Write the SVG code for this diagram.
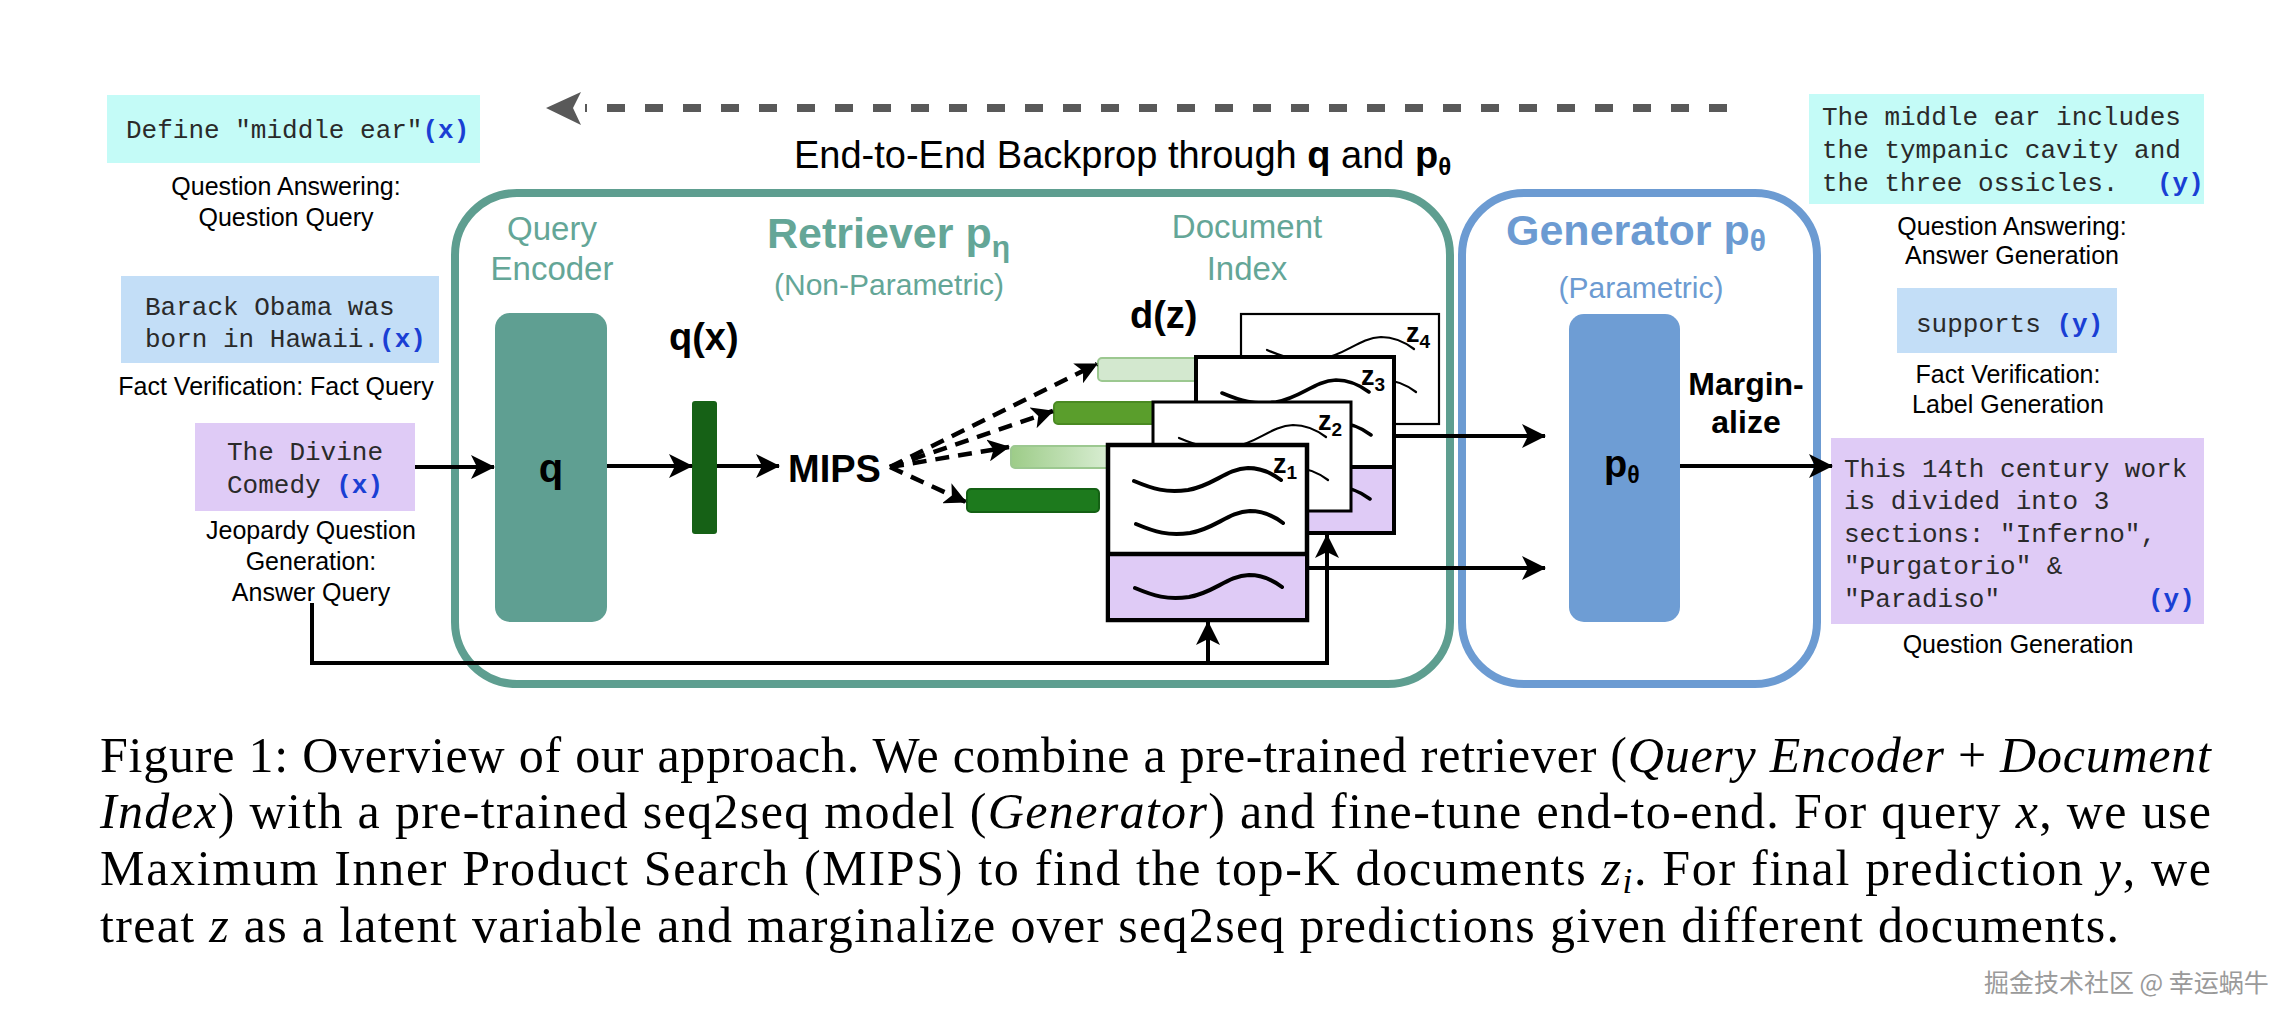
<svg xmlns="http://www.w3.org/2000/svg" xmlns:xlink="http://www.w3.org/1999/xlink" width="2296" height="1026" viewBox="0 0 2296 1026">
<style>
.lbl{font-family:"Liberation Sans",Arial,sans-serif;font-size:25px;fill:#000}
.mono{font-family:"Liberation Mono","Courier New",monospace;font-size:26px;fill:#2a2a2a}
.var{font-weight:bold;fill:#1a3fd4}
.teal{font-family:"Liberation Sans",Arial,sans-serif;fill:#64a697}
.blue{font-family:"Liberation Sans",Arial,sans-serif;fill:#6c9bd2}
.bold{font-family:"Liberation Sans",Arial,sans-serif;font-weight:bold;fill:#000}
.cap{font-family:"Liberation Serif","Times New Roman",serif;font-size:50px;fill:#000}
.it{font-style:italic}
.ln{fill:none;stroke:#000;stroke-width:4}
.dash{fill:none;stroke:#000;stroke-width:4.5;stroke-dasharray:14 9}
.doc{fill:#fff;stroke:#000}
.sq{fill:none;stroke:#000;stroke-linecap:round}
.zl{font-family:"Liberation Sans",Arial,sans-serif;font-weight:bold;fill:#000}
</style>
<defs>
<marker id="ah" markerUnits="userSpaceOnUse" viewBox="0 0 24 24" markerWidth="24" markerHeight="24" refX="23" refY="12" orient="auto">
<path d="M0,0 L24,12 L0,24 L6,12 Z" fill="#000"/>
</marker>
<marker id="ahs" markerUnits="userSpaceOnUse" viewBox="0 0 24 24" markerWidth="22" markerHeight="22" refX="23" refY="12" orient="auto">
<path d="M0,0 L24,12 L0,24 L6,12 Z" fill="#000"/>
</marker>
<linearGradient id="g2" gradientUnits="userSpaceOnUse" x1="1011" y1="0" x2="1108" y2="0">
<stop offset="0" stop-color="#9dcc88"/>
<stop offset="1" stop-color="#d8edd2"/>
</linearGradient>
<path id="sq" d="M0,0 C19,8 32,12 54,9 C79,5 92,-12 114,-13 C129,-13 139,-7 147,-1"/>
</defs>
<rect width="2296" height="1026" fill="#fff"/>

<g id="backprop">
<path d="M1727,108 H585" fill="none" stroke="#595959" stroke-width="8" stroke-dasharray="18 20"/>
<path d="M546,108 L581,92 L573,108 L581,125 Z" fill="#595959"/>
<text x="794" y="168" font-family="Liberation Sans, Arial, sans-serif" font-size="38">End-to-End Backprop through <tspan font-weight="bold">q</tspan> and <tspan font-weight="bold">p</tspan><tspan font-weight="bold" font-size="24" dy="7">θ</tspan></text>
</g>

<g id="input-qa">
<rect x="107" y="95" width="373" height="68" fill="#c4fbf7"/>
<text class="mono" x="126" y="138">Define "middle ear"<tspan class="var">(x)</tspan></text>
<text class="lbl" x="286" y="195" text-anchor="middle">Question Answering:</text>
<text class="lbl" x="286" y="226" text-anchor="middle">Question Query</text>
</g>
<g id="input-fact">
<rect x="121" y="276" width="318" height="87" fill="#c3def7"/>
<text class="mono" x="145" y="315">Barack Obama was</text>
<text class="mono" x="145" y="347">born in Hawaii.<tspan class="var">(x)</tspan></text>
<text class="lbl" x="276" y="395" text-anchor="middle">Fact Verification: Fact Query</text>
</g>
<g id="input-jeopardy">
<rect x="195" y="423" width="220" height="88" fill="#dfcbf6"/>
<text class="mono" x="227" y="460">The Divine</text>
<text class="mono" x="227" y="493">Comedy <tspan class="var">(x)</tspan></text>
<text class="lbl" x="311" y="539" text-anchor="middle">Jeopardy Question</text>
<text class="lbl" x="311" y="570" text-anchor="middle">Generation:</text>
<text class="lbl" x="311" y="601" text-anchor="middle">Answer Query</text>
</g>

<g id="retriever">
<rect x="455" y="193" width="995" height="491" rx="62" fill="none" stroke="#5e9e90" stroke-width="8"/>
<text class="teal" x="552" y="240" font-size="33" text-anchor="middle">Query</text>
<text class="teal" x="552" y="280" font-size="33" text-anchor="middle">Encoder</text>
<text class="teal" x="767" y="248" font-size="43" font-weight="bold">Retriever p<tspan font-size="30" dy="9">η</tspan></text>
<text class="teal" x="774" y="295" font-size="30">(Non-Parametric)</text>
<text class="teal" x="1247" y="238" font-size="33" text-anchor="middle">Document</text>
<text class="teal" x="1247" y="280" font-size="33" text-anchor="middle">Index</text>
</g>
<g id="query-encoder">
<rect x="495" y="313" width="112" height="309" rx="15" fill="#5f9f92"/>
<text class="bold" x="551" y="482" font-size="40" text-anchor="middle">q</text>
</g>
<g id="qx">
<text class="bold" x="669" y="350" font-size="38">q(x)</text>
<rect x="692" y="401" width="25" height="133" rx="3" fill="#166116"/>
</g>
<g id="mips">
<text class="bold" x="788" y="482" font-size="38">MIPS</text>
</g>
<g id="dz">
<text class="bold" x="1130" y="328" font-size="38">d(z)</text>
<rect x="1098" y="358" width="110" height="23" rx="4" fill="#d3e8cf" stroke="#9cc890" stroke-width="2"/>
<rect x="1054" y="402" width="110" height="22" rx="4" fill="#5a9e2c" stroke="#4a8a22" stroke-width="2"/>
<rect x="1011" y="446" width="110" height="22" rx="4" fill="url(#g2)" stroke="#9cc890" stroke-width="2"/>
<rect x="967" y="489" width="132" height="23" rx="4" fill="#1d7a1d" stroke="#146014" stroke-width="2"/>
</g>

<g id="doc-z4" transform="translate(1241,314)">
<rect class="doc" x="0" y="0" width="198" height="110" stroke-width="2.2"/>
<use xlink:href="#sq" class="sq" x="26" y="36" stroke-width="2.2"/>
<use xlink:href="#sq" class="sq" x="28" y="79" stroke-width="2.2"/>
<text class="zl" x="165" y="28" font-size="27">z<tspan font-size="19" dy="6">4</tspan></text>
</g>
<g id="doc-z3" transform="translate(1196,357)">
<rect class="doc" x="0" y="0" width="198" height="176" stroke-width="4"/>
<rect x="2" y="110" width="194" height="64" fill="#dfcbf6"/>
<path d="M0,110 H198" stroke="#000" stroke-width="4"/>
<use xlink:href="#sq" class="sq" x="26" y="36" stroke-width="3.6"/>
<use xlink:href="#sq" class="sq" x="28" y="79" stroke-width="3.6"/>
<use xlink:href="#sq" class="sq" x="27" y="143" stroke-width="3.6"/>
<text class="zl" x="165" y="28" font-size="27">z<tspan font-size="19" dy="6">3</tspan></text>
</g>
<g id="doc-z2" transform="translate(1153,402)">
<rect class="doc" x="0" y="0" width="198" height="109" stroke-width="3"/>
<use xlink:href="#sq" class="sq" x="26" y="36" stroke-width="2.2"/>
<use xlink:href="#sq" class="sq" x="28" y="79" stroke-width="2.2"/>
<text class="zl" x="165" y="28" font-size="27">z<tspan font-size="19" dy="6">2</tspan></text>
</g>
<g id="doc-z1" transform="translate(1108,445)">
<rect class="doc" x="0" y="0" width="199" height="175" stroke-width="4.5"/>
<rect x="2" y="109" width="195" height="64" fill="#dfcbf6"/>
<path d="M0,109 H199" stroke="#000" stroke-width="4.5"/>
<use xlink:href="#sq" class="sq" x="26" y="36" stroke-width="4"/>
<use xlink:href="#sq" class="sq" x="28" y="79" stroke-width="4"/>
<use xlink:href="#sq" class="sq" x="27" y="143" stroke-width="4"/>
<text class="zl" x="165" y="28" font-size="27">z<tspan font-size="19" dy="6">1</tspan></text>
</g>

<g id="generator">
<rect x="1462" y="193" width="355" height="491" rx="62" fill="none" stroke="#6c9bd2" stroke-width="8"/>
<text class="blue" x="1506" y="245" font-size="43" font-weight="bold">Generator p<tspan font-size="30" dy="6">θ</tspan></text>
<text class="blue" x="1641" y="298" font-size="30" text-anchor="middle">(Parametric)</text>
</g>
<g id="generator-p">
<rect x="1569" y="314" width="111" height="308" rx="15" fill="#6e9dd4"/>
<text class="bold" x="1604" y="477" font-size="38">p<tspan font-size="23" dy="6">θ</tspan></text>
</g>
<g id="marginalize">
<text class="bold" x="1746" y="395" font-size="32" text-anchor="middle">Margin-</text>
<text class="bold" x="1746" y="433" font-size="32" text-anchor="middle">alize</text>
</g>

<g id="output-qa">
<rect x="1809" y="94" width="395" height="110" fill="#c4fbf7"/>
<text class="mono" x="1822" y="125">The middle ear includes</text>
<text class="mono" x="1822" y="158">the tympanic cavity and</text>
<text class="mono" x="1822" y="191">the three ossicles.</text>
<text class="mono var" x="2157" y="191">(y)</text>
<text class="lbl" x="2012" y="235" text-anchor="middle">Question Answering:</text>
<text class="lbl" x="2012" y="264" text-anchor="middle">Answer Generation</text>
</g>
<g id="output-fact">
<rect x="1897" y="288" width="220" height="65" fill="#c3def7"/>
<text class="mono" x="1916" y="332">supports <tspan class="var">(y)</tspan></text>
<text class="lbl" x="2008" y="383" text-anchor="middle">Fact Verification:</text>
<text class="lbl" x="2008" y="413" text-anchor="middle">Label Generation</text>
</g>
<g id="output-jeopardy">
<rect x="1831" y="438" width="373" height="186" fill="#dfcbf6"/>
<text class="mono" x="1844" y="477">This 14th century work</text>
<text class="mono" x="1844" y="509">is divided into 3</text>
<text class="mono" x="1844" y="542">sections: "Inferno",</text>
<text class="mono" x="1844" y="574">"Purgatorio" &amp;</text>
<text class="mono" x="1844" y="607">"Paradiso"</text>
<text class="mono var" x="2148" y="607">(y)</text>
<text class="lbl" x="2018" y="653" text-anchor="middle">Question Generation</text>
</g>

<g id="connectors">
<path class="ln" d="M415,467 H494" marker-end="url(#ah)"/>
<path class="ln" d="M607,466 H692" marker-end="url(#ah)"/>
<path class="ln" d="M717,466 H779" marker-end="url(#ah)"/>
<path class="dash" d="M890,467 L1097,364" marker-end="url(#ahs)"/>
<path class="dash" d="M890,467 L1053,411" marker-end="url(#ahs)"/>
<path class="dash" d="M890,467 L1009,447" marker-end="url(#ahs)"/>
<path class="dash" d="M890,467 L966,502" marker-end="url(#ahs)"/>
<path class="ln" d="M1394,436 H1545" marker-end="url(#ah)"/>
<path class="ln" d="M1307,568 H1545" marker-end="url(#ah)"/>
<path class="ln" d="M1680,466 H1832" marker-end="url(#ah)"/>
<path class="ln" d="M312,603 V663 H1327 V535" marker-end="url(#ah)"/>
<path class="ln" d="M1208,663 V622" marker-end="url(#ah)"/>
</g>

<g id="caption">
<text class="cap" x="100" y="772" textLength="2111" lengthAdjust="spacing">Figure 1: Overview of our approach. We combine a pre-trained retriever (<tspan class="it">Query Encoder</tspan> + <tspan class="it">Document</tspan></text>
<text class="cap" x="100" y="828" textLength="2111" lengthAdjust="spacing"><tspan class="it">Index</tspan>) with a pre-trained seq2seq model (<tspan class="it">Generator</tspan>) and fine-tune end-to-end. For query <tspan class="it">x</tspan>, we use</text>
<text class="cap" x="100" y="885" textLength="2111" lengthAdjust="spacing">Maximum Inner Product Search (MIPS) to find the top-K documents <tspan class="it">z</tspan><tspan class="it" font-size="35" dy="8">i</tspan><tspan dy="-8">. For final prediction </tspan><tspan class="it">y</tspan>, we</text>
<text class="cap" x="100" y="942" textLength="2019" lengthAdjust="spacing">treat <tspan class="it">z</tspan> as a latent variable and marginalize over seq2seq predictions given different documents.</text>
</g>
<text x="1984" y="992" font-family="Noto Sans CJK SC, sans-serif" font-size="25" fill="#9a9a9a">掘金技术社区 @ 幸运蜗牛</text>
</svg>
